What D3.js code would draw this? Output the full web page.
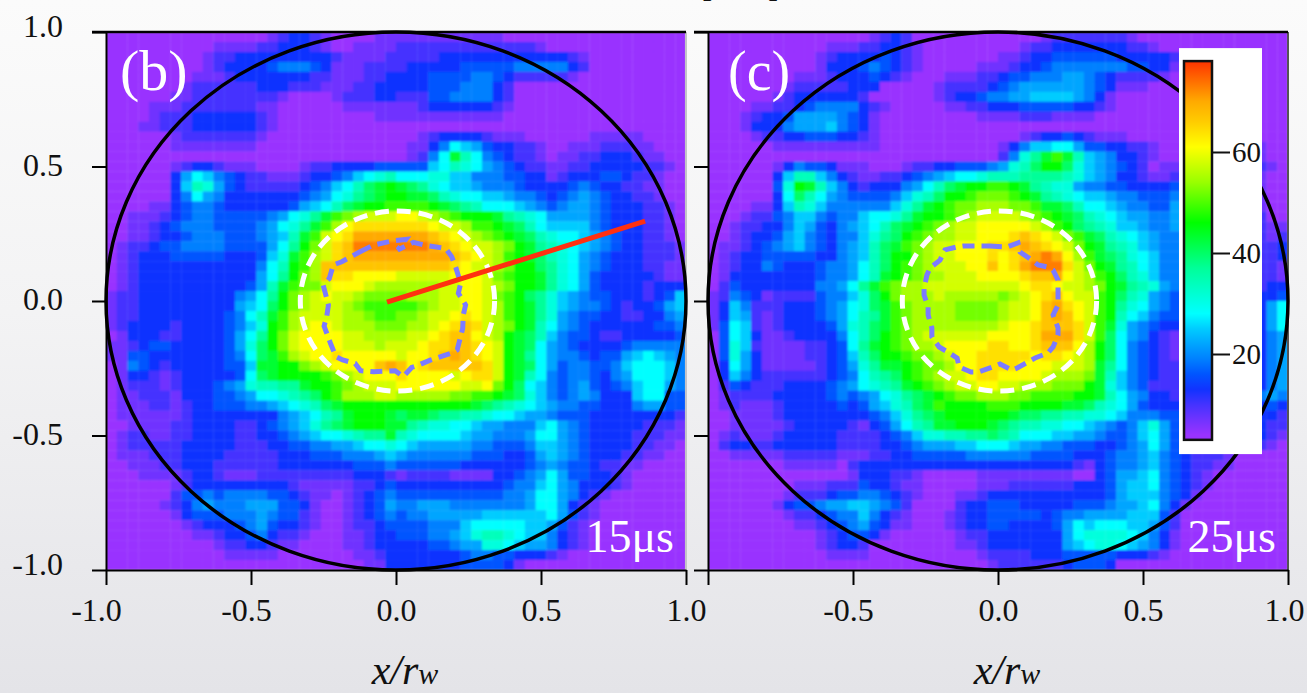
<!DOCTYPE html>
<html>
<head>
<meta charset="utf-8">
<script src="https://cdn.jsdelivr.net/npm/d3@7"></script>
<style>
  html, body { margin: 0; padding: 0; overflow: hidden; }
  body { width: 1307px; height: 693px; background: linear-gradient(#fbfbfb, #f3f3f4 45%, #e4e4e8); }
  svg { display: block; font-family: "Liberation Serif", "Times New Roman", serif; }
</style>
</head>
<body>
<svg id="chart" width="1307" height="693"></svg>
<script>
// one letter per cell, a = lowest level, each next letter is 3 units up
const levelLetters = "abcdefghijklmnopqrstuvwxy";
const levelBase = 4, levelStep = 3;

const rowsB = [
"aaaaaaaaa aaaaaabcd dcbaaaabb bbbbbbbbb baaaaaaaa aaaaaaaaa",
"aaaaaaaaa abbbbccdd dcbaabbbb ccccccccc ccccbaaaa aaaaaaaaa",
"aaaaaaaaa bccdddddd dddcbbbbc ccccddddd dddddddcb aaaaaaaaa",
"aaaaaaaaa bcddddeff fedbbbccc cdddddeee eefffffdc aaaaaaaaa",
"aaaaaaaab bbcdddddd dccbbbccd dddeeeeff edcccccba aaaaaaaaa",
"aaaaaaabc cccccdddc ccbbbccdd dddeeefff dcaaaaaaa aaaaaaaaa",
"aaaaaabbc cccccccba aaabcccdd ccceeffff dcaaaaaaa aaaaaaaaa",
"aaaabbbcc cccccbbaa aaaabbbbb bbcdddddd cbaaaaaaa aaaaaaaaa",
"aaaabcccd dddddcbaa aaaaaaabb bbbbbbbbb baaaaaaaa aaaaaaaaa",
"aaabbcccd dddddcbaa aaaaaaaaa aaaaaaaaa aaaaaaaaa aaaaaaaaa",
"aaaaaabcc cccccbaaa aaaaaaaaa aabcddddc bbbaaaaaa bbbbbaaaa",
"aaaaaabbb bbbbbaaaa aaaaaaaaa abbdfihge ddccbaabb bcccbbaaa",
"aaaaaaaaa aaaaaaaaa aaaaaaaaa abcfinkif edccbabbc cdddcbbaa",
"aaaaaabcd dcbbbaaaa bccddddee eeehikjig fedccbbcc dddddccba",
"aaaaaadgi hfedccbbb cddefhijk iiijjhhff feeddbcdd deedccbaa",
"aaaaaadhk jgedccccc defhikmno nmljihhgf ffeddddef eddccbbaa",
"aaaaaadfi gfddddddd efgijlmno onnmkjiih hgffedefg feddccbaa",
"aaaabbdef fedddddde ghikmnoop ppponmlki iihgfefgg fedddccba",
"aabbbcdef feeeeefgi jlnpqrsss ttsrqpooo nlkjigggg fedddccba",
"aabbcdeff feeeefgij lnprtuuuu uuutssrpp onmkihhhh fedddccba",
"aabbcddef ffeeefghk npstuwwww wwwvutsrq ponmkjiih gfeddccba",
"abccdeeff ffeeeegil oqsuvxxxx xxxwvutss rqonlkjih gfeddcccb",
"abcdddeee eedddehjn prsuvwwww wwwwwvuts rponmkjig fedddcccb",
"abcdddddd dddddfiko prvvvvvvv vvvvvutss rqoomljig fedddccbb",
"abcdddddd dddddgilo qrvuutttt sssssttts qpoonljig edddddcbb",
"abcdddddd ddddegknp qqstttsrr rrrrsstts rqoonljig eddddcddd",
"bccdddddd dddfgiloq rstssrqqq qrrrsstts qpomljhgf eedddcdeh",
"bccdddddd dddghimoq rsssrqppp ppqrsstts rponljhgf fedcddegh",
"bccdddddd ddefiknpr ssssrrqpp qqrsstuts rponljgfe eddccddfg",
"bcddddcdd ddefhjopr sttsrrrqq qrrstuvus rqonkigfe ddddddeef",
"abdddccdd ddegiloqs ttttssrrr rsstuvvts ronmkhfee dccddddde",
"bbcdeeddd ddegjmoqs ttttsssrs sstuuvvut sonmigfed dddefffff",
"bbeeddddd ddefimnpr sttuttttt sttuvwvut sonligffe deeghihgf",
"abfedcddd ddeehnnoo qrsttttvw vtuvvvvvu sonmigeff eefhiiihf",
"abddcbcdd dddeimnoo oopqrsttt uttttstuu sonkifeff edfgiiihf",
"abcccbcdd defgjkkll noopqrsss ttttttsst qomihfefg edefhiigf",
"abbcccbdd deefgiijk lmoprrrss rrrrrqqpp onmjhfefg fdddhiiee",
"abbbccbcd deeeffghi jkmnooooo ooooooonm lkjihgffe edddfggee",
"abbbbbbcd dddddddfg hiklnooon mnnmllkkj iihggfeee ddddddddc",
"aabbbbccd dddccdefg hjlmnooon nlkjjiihg gfffhigfe dddddcccb",
"abccbbccd dddccddef ghiijklln kjiiiihgg fffgiigfe ddddcccbb",
"abcccccdd dddcccdde effgghiij ihgggggff eeefhhgfe ddddccbba",
"abbbcccdd ddcccccdd deeefffgh gffffffee eddeghgfe dddccbbaa",
"aabbbccdd dccccccdd dddddeeef eeeeeeddd dddefgfee dccbbaaaa",
"aaabbbbcd dcbbbcccc cccccdddc bccccbbbb ddefgigee ddcbaaaaa",
"aaaaaabcd ddddddddc bbbbbccde ddddddddd deffhigfd ddcbaaaaa",
"aaaaaacee feffffeed cbbabcdef eeeeeeeee effgiigfd cbaaaaaaa",
"aaaaabcdf gfffgggee dbaabcdeg ffgggffff fffgiigdc baaaaaaaa",
"aaaaaabde eefffgfee cbaabcdef effgggggh hhhhhigec baaaaaaaa",
"aaaaaaabc dddefgedd cbaabccde eeefffhii iiihhgecb aaaaaaaaa",
"aaaaaaaab bcddefdcc baaabbcdd eeeffghjk kjihhfdcb aaaaaaaaa",
"aaaaaaaaa abccddcbb aaaabbcdd dddeefggj jihggfdcb aaaaaaaaa",
"aaaaaaaaa aabbbbbaa aaaaabbcd ddddddeff eedddcbaa aaaaaaaaa",
"aaaaaaaaa aaaaaaaaa aaaaaabbd ddddddeee edbaaaaaa aaaaaaaaa"
];

const rowsC = [
"aaaaaaaaa aaaaaabcd caaaaaaaa aaaabcccc cccbaaaaa aaaaaaaaa",
"aaaaaaaaa aabbbccdd cbaaaaaaa aabccdddd dddccbaaa aaaaaaaaa",
"aaaaaaaaa abcdddded cbaaaaaaa bbcddeeee eedddddca aaaaaaaaa",
"aaaaaaaaa abdddefed cbaaaaabb bcddeffff fffeeddba aaaaaaaaa",
"aaaaaaaab bbcdddedc baaabbbcc deefffggf edccccbaa aaaaaaaaa",
"aaaaaaabc ccccdddaa aaabccccd efggggggf edbbbaaaa aaaaaaaaa",
"aaaaaabcd dddddcaaa aaabcddef fgghhhhgf dbaaaaaaa aaaaaaaaa",
"aaaabbccd effffdcba aaaabbccd ddeeeeedd cbaaaaaaa aaaaaaaaa",
"aaabcddeg gggfedbaa aaaaaaabb bbcccbbbb aaaaaaaaa aaaaaaaaa",
"aaabdddfg gghfedbaa aaaaaaaaa aaaaaaaaa aaaaaaaaa aaaaaaaaa",
"aaaabccdd eeeddcbaa aaaaaaaaa aabcddedc bbbaaaaaa aaaaaaaaa",
"aaaaaabbb bbbbbbbaa aaaaaaaaa bdfhhiige eddccbaab bbbbbbbaa",
"aaaaaaaaa aaaaaaaaa aaaaaaaaa cfjlnpnkh gfddcbaac ccccccbaa",
"aaaaaabdf eedbbbaaa bccddeeef gjkmoomjh gfedcabbd ddddddcba",
"aaaaaadhk khfdcbbcc defghiijk kkllllkjh gfddcbbce eeeedcbaa",
"aaaaaaejo nkhfdcddd fgikmnoop ponlkjjgf feeddddef fffedcbaa",
"aaaaaadim kigfeeeef hjkmoopqq qponlkjih hgffeeefg fffedcbaa",
"aaaabbdhk jhffffffh jlnopqqrr rqqpnnmki ihgffeegh hgfedcbaa",
"aaabccefh hfeffhiij lnoopqrss ssrqponmk jihggffgi ihgfedcaa",
"aabccddfh gedfghikm nopqrsstt tttsrpoml kjhhgffgi ihgfedcbb",
"aabcddegh fedffhjlm opqrrsstt tuvutsqpn mkjihgffi ihgfedcbc",
"abbcdefgh fedfghkmn pqrsstttu uvwvutsqo nlkjhgffi ihgfedccd",
"abcddeeee eddfghkmo oqrsstttu tuvwxwtrp nmljihffi ihgfedccd",
"abcddfedd deffgikmo pqrsssttv tuwxxxusq onlkihffh hgfedcccb",
"abddddddd deffgikno pqrrssstt ttuvvwtsr pomkjhffg gfedccccb",
"acedddddd dffgilnpq rrsssssss sstuutssr qonlkjgff fedccccdd",
"bcfedbccc ceffhjmoq rrrsrrrrr qrstuvtss pomkjgfee edddcddde",
"bdhfcccdd defgijmnp qrrrrqqqq rsstvwuts poljigfee edddcddgi",
"bdhgcbcdd defgiklnp qrrrrqqqq rsstvwvts pokihfeee edddcddgi",
"beihcbcdd ddegjkmnp qrrrrrrrr sttuvvvus pnjgfeddc cdddcddgi",
"aeihdbbcd dddfikmop qrsssssst tttuwwwus pmigfdcbb bcccdddfg",
"aejhcbbbb ccdeilnop qrrsttttu uttuvvvtr omifedcbb bcccdddfg",
"aejgdbbbb ccdehkmoo pqqrsttuu uuutuutsr omifedcbb bccddddfg",
"adigdbbbb bcdegjlnn opqqrttuu uutttsssr nlifedccb bccddddfg",
"adhfdcccc ccdefiklm opqrsstuu ttttsrrrq nkhfedccc cccddddfg",
"acedcccdd ddefgijkl nopqrsstt ssrrrqqqo njhfecccc cccddddfg",
"abccccddd ddefefgij lmnopqqrr rqqppppoo nkigfddcc cccdddfgf",
"abcbbbcdd dddedeghj kmnpoooop ppoooonnm kjigedddd ddddddded",
"aabbbbcdd ddddddefh jlmnooooo onmmllkkj jihfffeed ddddddddc",
"aabbbbbcd ddddcbdeg iklnnooon mlkkjjiih gfefhjged dddddddcc",
"abcbbbcdd dddccccde fhjjkkllm lkiiihhgg feefhiged dddddddcb",
"acddccddd dddccccdd efggghhii ihggffeee ddefgiged ddddddcba",
"aabbbbbcc cccbbbccd deeeeefff fffeeeedd deffghfed cccbaaaaa",
"aaaaaaabb bbbacdddd ddddddddd dddddddcb deffghfed ccbbaaaaa",
"aaaaaaaaa aaaabdddc cbaaaaabb bbbbbbbaa degghifed cbaaaaaaa",
"aaaaaaaab bbccceddc bbaaaaabb bccccccdd deghhifed cbaaaaaaa",
"aaaaaaabc ccdeeffed cbaaabbcd ddddddddd deghhhfed baaaaaaaa",
"aaaaaabde efgghhgfe caaaacdde eedddddee efgghifdb aaaaaaaaa",
"aaaaaaabc cdeffhfdc baaabcdde eeeedeffg ggghhheca aaaaaaaaa",
"aaaaaaaab bcdefgedb baaabcdde eddddegih iiihhgeca aaaaaaaaa",
"aaaaaaaaa abcdeedba aaaaabccd ddddddgij jjjihfdba aaaaaaaaa",
"aaaaaaaaa abcddcaaa aaaaabbcd ddddddghi jjihgfdba aaaaaaaaa",
"aaaaaaaaa aabbbbaaa aaaaaaabc cccdddeee eedddcbaa aaaaaaaaa",
"aaaaaaaaa aaaaaaaaa aaaaaaaab ccccccdee edaaaaaaa aaaaaaaaa"
];

// dashed contours, x/rw and y/rw
const contourBx = [-0.124,-0.078,-0.009,0.034,0.006,0.060,0.106,0.171,0.192,0.207,0.223,0.215,0.240,0.232,0.230,0.211,0.192,0.120,0.074,0.054,0.025,-0.003,-0.076,-0.122,-0.141,-0.184,-0.207,-0.225,-0.248,-0.239,-0.233,-0.251,-0.230,-0.216,-0.187];
const contourBy = [0.183,0.208,0.224,0.229,0.190,0.218,0.206,0.196,0.165,0.122,0.066,0.029,-0.015,-0.052,-0.102,-0.182,-0.194,-0.219,-0.240,-0.247,-0.281,-0.259,-0.263,-0.259,-0.232,-0.219,-0.207,-0.160,-0.093,-0.058,-0.015,0.059,0.084,0.134,0.146];
const contourCx = [-0.028,0.031,0.069,0.076,0.117,0.138,0.172,0.190,0.207,0.207,0.190,0.207,0.207,0.190,0.172,0.128,0.103,0.066,0.048,0.007,-0.017,-0.069,-0.093,-0.134,-0.141,-0.179,-0.203,-0.228,-0.228,-0.241,-0.241,-0.255,-0.255,-0.245,-0.234,-0.200,-0.183,-0.141,-0.121];
const contourCy = [0.204,0.201,0.216,0.182,0.152,0.134,0.126,0.115,0.078,-0.015,-0.052,-0.100,-0.126,-0.171,-0.193,-0.212,-0.227,-0.249,-0.257,-0.234,-0.245,-0.264,-0.264,-0.245,-0.212,-0.186,-0.171,-0.134,-0.100,-0.052,-0.022,0.022,0.048,0.097,0.123,0.152,0.190,0.201,0.204];

const chordX = [-0.031, 0.859];
const chordY = [-0.004, 0.297];

const axisTicks = [-1, -0.5, 0, 0.5, 1];
const barTicks = [20, 40, 60];
const barRange = [3, 78];
const colorStops = [4, 7, 10, 13, 16, 19, 22, 25, 28, 37, 46, 54, 61, 66, 70, 78];
const colorValues = ["#9933ff", "#7033ff", "#4433ff", "#1133ff", "#0055ff", "#0080ff", "#00a5ff", "#00ccff", "#00ffff", "#00ff99", "#00ff00", "#99ff00", "#ffff00", "#ffcc00", "#ffaa00", "#ff3300"];

const wallRadius = 1, coreRadius = 0.335;

const panels = [
    {rows: rowsB, left: 106, right: 686, label: "(b)", labelX: 14, labelSize: 58, time: "15\u03bcs", cx: contourBx, cy: contourBy, yLabels: true, xFirst: true, coreX: 0.005, edge: "#c4c4c8"},
    {rows: rowsC, left: 708, right: 1288, label: "(c)", labelX: 20, labelSize: 56, time: "25\u03bcs", cx: contourCx, cy: contourCy, yLabels: false, xFirst: false, coreX: 0.005, edge: "#555"}
];
const plotTop = 32, plotBottom = 570;

const color = d3.scaleLinear().domain(colorStops).range(colorValues).clamp(true);
const decode = row => row.replace(/ /g, "").split("").map(c => levelBase + levelStep * levelLetters.indexOf(c));

const svg = d3.select("#chart");
const defs = svg.append("defs");
defs.append("filter").attr("id", "soft")
    .attr("x", 0).attr("y", 0).attr("width", 1).attr("height", 1)
    .append("feGaussianBlur").attr("stdDeviation", 0.8);

// bit of the title above the crop
svg.append("text").attr("x", 701).attr("y", -4).attr("font-size", 34).attr("fill", "#111").text("[");
svg.append("text").attr("x", 768).attr("y", -4).attr("font-size", 34).attr("fill", "#111").text("]");

const y = d3.scaleLinear().domain([-1, 1]).range([plotBottom, plotTop]);

panels.forEach(drawPanel);
drawColorbar();

function drawPanel(p) {
    const g = svg.append("g");
    const x = d3.scaleLinear().domain([-1, 1]).range([p.left, p.right]);
    const nCols = decode(p.rows[0]).length;
    const col = d3.scaleBand().domain(d3.range(nCols)).range([p.left, p.right]);
    const row = d3.scaleBand().domain(d3.range(p.rows.length)).range([plotTop, plotBottom]);

    // heat map cells
    g.append("g").attr("filter", "url(#soft)").selectAll("g")
        .data(p.rows.map(decode))
        .join("g")
        .attr("transform", (d, i) => `translate(0,${row(i)})`)
        .selectAll("rect")
        .data(d => d)
        .join("rect")
        .attr("x", (d, i) => col(i))
        .attr("width", col.bandwidth() + 0.3)
        .attr("height", row.bandwidth() + 0.3)
        .attr("fill", d => color(d));

    // right edge of the frame
    g.append("line")
        .attr("x1", x(1)).attr("x2", x(1))
        .attr("y1", y(1)).attr("y2", y(-1))
        .attr("stroke", p.edge).attr("stroke-width", 2);

    // wall circle
    g.append("ellipse")
        .attr("cx", x(0)).attr("cy", y(0))
        .attr("rx", x(wallRadius) - x(0)).attr("ry", y(0) - y(wallRadius))
        .attr("fill", "none").attr("stroke", "#000").attr("stroke-width", 3.5);

    // white dashed circle
    g.append("ellipse")
        .attr("cx", x(p.coreX)).attr("cy", y(0))
        .attr("rx", x(coreRadius) - x(0)).attr("ry", y(0) - y(coreRadius))
        .attr("fill", "none").attr("stroke", "#fff").attr("stroke-width", 5)
        .attr("stroke-dasharray", "14,8");

    // dashed contour
    const contour = d3.line().x(d => x(d[0])).y(d => y(d[1])).curve(d3.curveLinearClosed);
    g.append("path")
        .attr("d", contour(d3.zip(p.cx, p.cy)))
        .attr("fill", "none").attr("stroke", "#7b7bff").attr("stroke-width", 5)
        .attr("stroke-dasharray", "12,7");

    if (p.xFirst) {
        g.append("path")
            .attr("d", d3.line().x(d => x(d[0])).y(d => y(d[1]))(d3.zip(chordX, chordY)))
            .attr("stroke", "#ff3010").attr("stroke-width", 5).attr("fill", "none");
    }

    // axes
    const fmt = d => d.toFixed(1);
    const gx = g.append("g")
        .attr("transform", `translate(0,${plotBottom})`)
        .call(d3.axisBottom(x).tickValues(axisTicks).tickSize(15).tickSizeOuter(0)
            .tickFormat(d => (d === -1 && !p.xFirst) ? "" : fmt(d)));
    const gy = g.append("g")
        .attr("transform", `translate(${p.left},0)`)
        .call(d3.axisLeft(y).tickValues(axisTicks).tickSize(14).tickSizeOuter(0)
            .tickFormat(d => p.yLabels ? fmt(d) : ""));
    for (let a of [gx, gy]) {
        a.attr("font-family", null).attr("font-size", null);
        a.selectAll("line").attr("stroke", "#000").attr("stroke-width", 2);
        a.selectAll("text").attr("font-size", 32).attr("fill", "#111");
        a.select(".domain").attr("stroke", "#000").attr("stroke-width", 2);
    }
    // the hyphen hangs left of the centre in the original labels, last label of (c) is pulled in
    gx.selectAll("text").attr("y", 28)
        .attr("dx", d => d === -1 ? -10 : d < 0 ? -5 : (d === 1 && !p.xFirst) ? -4 : 0);
    gy.selectAll("text").attr("x", -43).attr("dy", d => d === 1 || d === -1 ? "0.14em" : "0.28em");

    // top spine
    g.append("line")
        .attr("x1", x(-1) - 14).attr("x2", x(1))
        .attr("y1", y(1)).attr("y2", y(1))
        .attr("stroke", "#000").attr("stroke-width", 2.5);

    // panel tags
    g.append("text").attr("x", x(-1) + p.labelX).attr("y", 90)
        .attr("font-size", p.labelSize).attr("fill", "#fff").text(p.label);
    g.append("text").attr("x", x(1) - 12).attr("y", 552).attr("text-anchor", "end")
        .attr("font-size", 46).attr("fill", "#fff").text(p.time);

    // x axis title
    const title = g.append("text")
        .attr("x", x(0) + 9).attr("y", 684).attr("text-anchor", "middle")
        .attr("font-size", 42).attr("font-style", "italic").attr("fill", "#111");
    title.append("tspan").text("x/r");
    title.append("tspan").attr("font-size", 30).text("w");
}

function drawColorbar() {
    const g = svg.append("g");
    const by = d3.scaleLinear().domain([20, 60]).range([354, 152]);
    const bx = d3.scaleLinear().domain([0, 1]).range([1184, 1212]);

    g.append("rect")
        .attr("x", bx(0) - 5).attr("width", 83)
        .attr("y", by(barRange[1]) - 13).attr("height", 406)
        .attr("fill", "#fff");

    const grad = defs.append("linearGradient").attr("id", "barGrad")
        .attr("x1", 0).attr("x2", 0).attr("y1", 1).attr("y2", 0);
    const span = barRange[1] - barRange[0];
    grad.selectAll("stop")
        .data([barRange[0]].concat(colorStops.filter(v => v > barRange[0] && v < barRange[1]), barRange[1]))
        .join("stop")
        .attr("offset", d => (d - barRange[0]) / span)
        .attr("stop-color", d => color(d));

    g.append("rect")
        .attr("x", bx(0)).attr("width", bx(1) - bx(0))
        .attr("y", by(barRange[1])).attr("height", by(barRange[0]) - by(barRange[1]))
        .attr("fill", "url(#barGrad)")
        .attr("stroke", "#111").attr("stroke-width", 2.5);

    const a = g.append("g")
        .attr("transform", `translate(${bx(1)},0)`)
        .call(d3.axisRight(by).tickValues(barTicks).tickSize(18).tickSizeOuter(0));
    a.attr("font-family", null).attr("font-size", null);
    a.select(".domain").remove();
    a.selectAll("line").attr("stroke", "#111").attr("stroke-width", 2);
    a.selectAll("text").attr("font-size", 29).attr("fill", "#111").attr("x", 20);
}
</script>
</body>
</html>
